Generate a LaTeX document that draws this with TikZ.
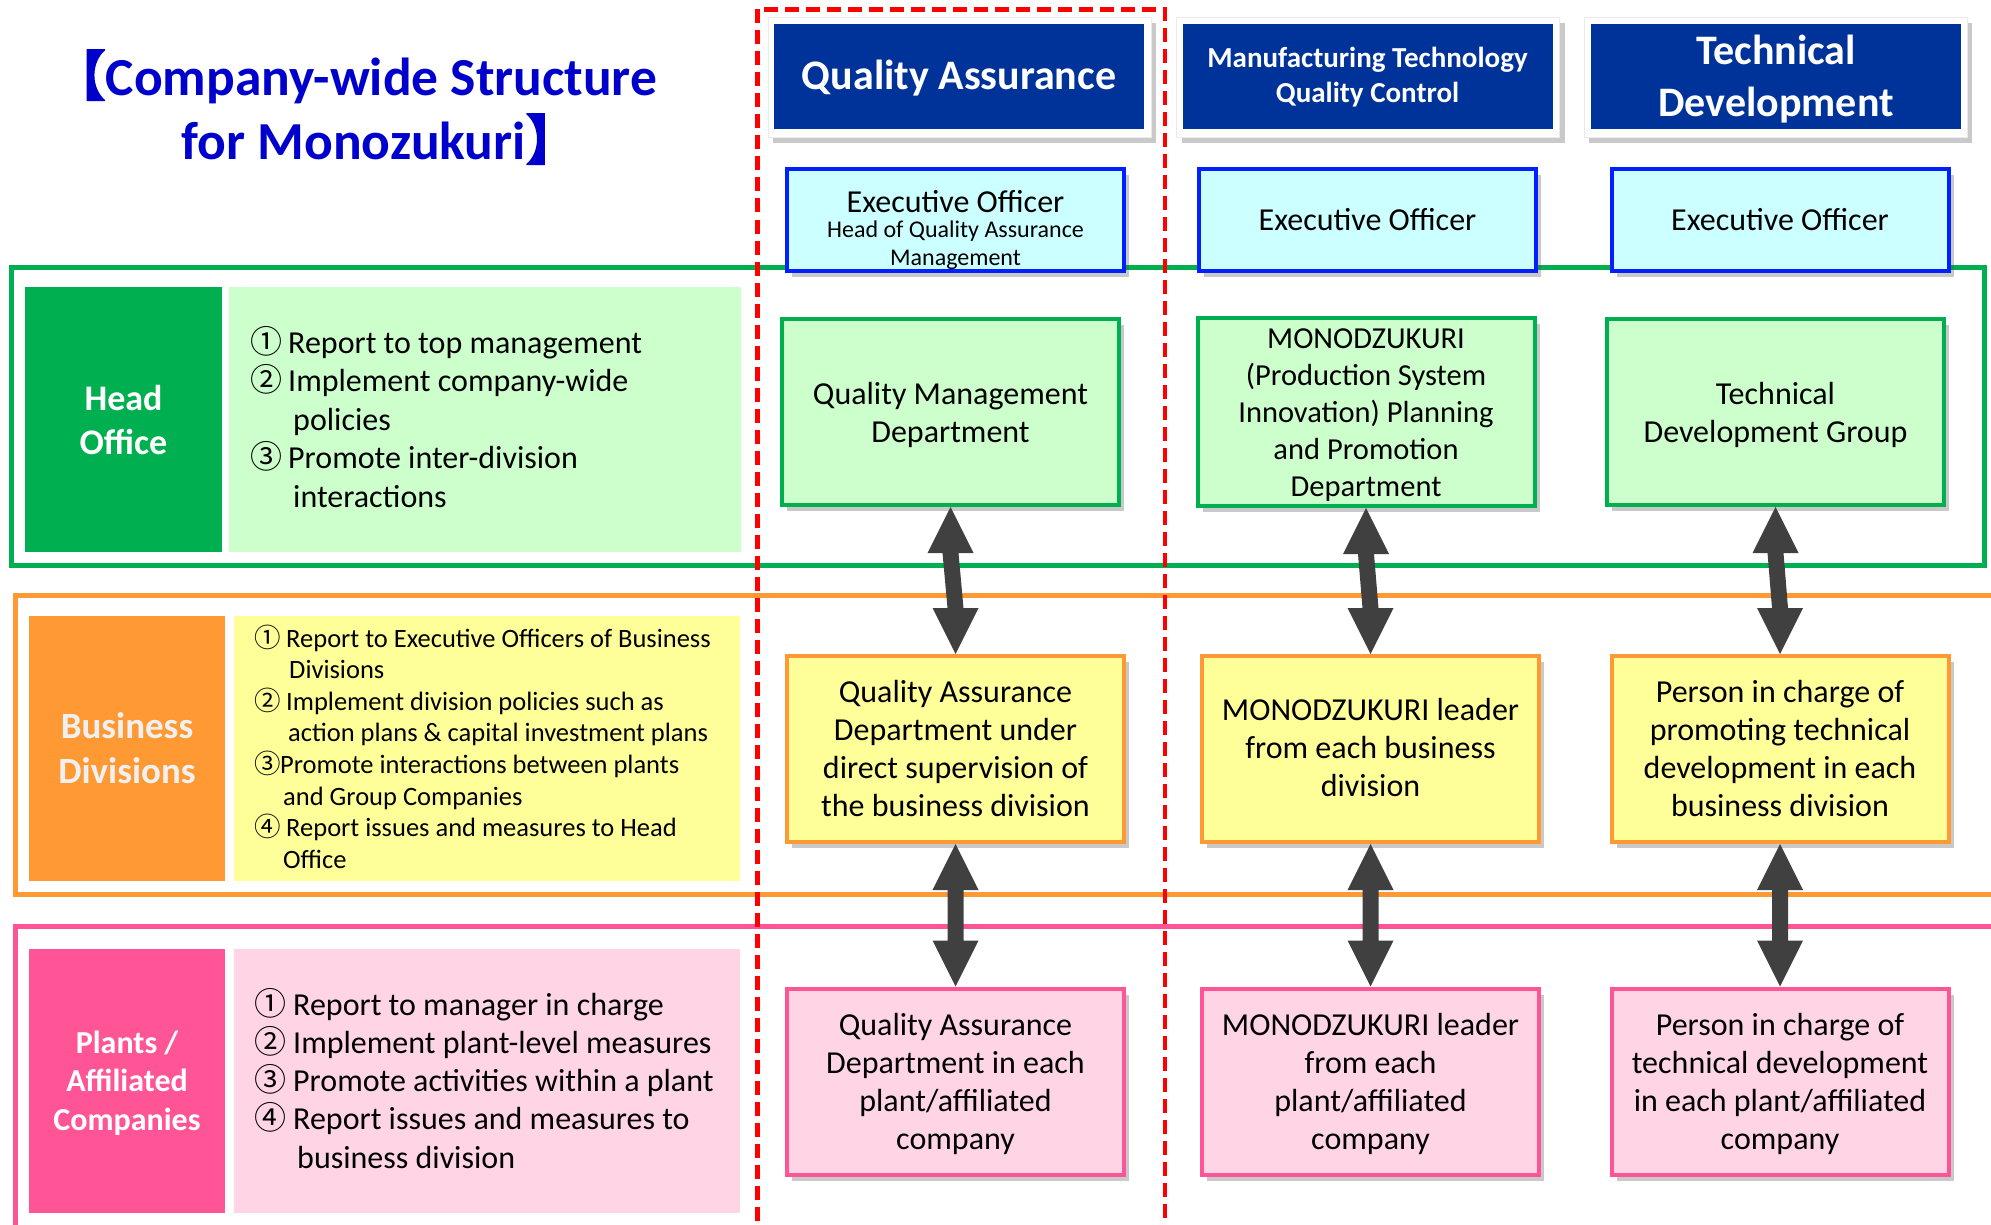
\documentclass[tikz,border=0pt]{standalone}
\usepackage{fontspec}
\setmainfont{Carlito}
\newfontfamily\cjk{Noto Sans CJK JP}
\newfontfamily\cjkb{Noto Sans CJK JP}[FakeBold=2.5]
\usetikzlibrary{shadows,calc}
\definecolor{titleblue}{RGB}{0,0,204}
\definecolor{hdrblue}{RGB}{0,51,153}
\definecolor{exblue}{RGB}{0,32,255}
\definecolor{exfill}{RGB}{204,255,255}
\definecolor{dgreen}{RGB}{0,176,80}
\definecolor{lgreen}{RGB}{204,255,204}
\definecolor{dorange}{RGB}{255,153,51}
\definecolor{lyellow}{RGB}{255,255,153}
\definecolor{dpink}{RGB}{255,85,150}
\definecolor{lpink}{RGB}{255,213,230}
\definecolor{agray}{RGB}{64,64,64}
\newcommand\fs[2]{\fontsize{#1}{#2}\selectfont}
\newcommand\ctext[1]{\vtop{\halign{\hfil##\hfil\cr#1\crcr}}}
\newcommand\ltext[1]{\vtop{\halign{##\hfil\cr#1\crcr}}}
\newcommand\cn[2]{\makebox[#1][l]{\cjk #2}}
\newcommand\dbl[2]{\fill[agray] let \p1=(#1), \p2=(#2) in (\x1,\y1) -- (\x1+23pt,\y1-46pt) -- (\x1+8pt,\y1-46pt) -- (\x2+8pt,\y2+46pt) -- (\x2+23pt,\y2+46pt) -- (\x2,\y2) -- (\x2-23pt,\y2+46pt) -- (\x2-8pt,\y2+46pt) -- (\x1-8pt,\y1-46pt) -- (\x1-23pt,\y1-46pt) -- cycle;}
\begin{document}
\begin{tikzpicture}[x=1pt,y=-1pt,
  shd/.style={drop shadow={shadow xshift=5pt,shadow yshift=-6pt,opacity=0.3,fill=black!70}},
  box/.style={shd, line width=4pt, minimum width=337pt, minimum height=186pt, inner sep=0pt, font=\fs{32}{38}, text height=30pt},
  gbox/.style={box, draw=dgreen, fill=lgreen},
  ybox/.style={box, draw=dorange, fill=lyellow},
  pbox/.style={box, draw=dpink, fill=lpink},
  exbox/.style={box, draw=exblue, fill=exfill, minimum height=102pt},
  hframe/.style={shd, fill=white, draw=black!8, line width=0.5pt, minimum width=383pt, minimum height=120pt, inner sep=0pt},
  hdr/.style={fill=hdrblue, minimum width=370pt, minimum height=105pt, inner sep=0pt, text=white, text height=30pt},
  band/.style={line width=5pt},
  lab/.style={minimum width=197pt, minimum height=265pt, inner sep=0pt, text=white, text height=30pt},
  panel/.style={minimum width=507pt, minimum height=265pt, inner sep=0pt},
  lst/.style={anchor=base west, inner sep=0pt},
  ttl/.style={anchor=base west, inner sep=0pt, text=titleblue, font=\bfseries\fs{53.5}{64}}
]
\useasboundingbox (0,0) rectangle (1991,1225);
% bands
\draw[band, draw=dgreen] (11,267) rectangle (1984,565);
\draw[band, draw=dorange] (15,595) rectangle (2010,894);
\draw[band, draw=dpink] (15,926) rectangle (2010,1250);
% red dashed column
\draw[line width=4.5pt, draw=red, dash pattern=on 14pt off 7pt] (757.5,9.5) rectangle (1165,1250);
% title
\node[ttl] (t1) at (52,95.5) {{\cjkb 【}Company-wide Structure};
\node[ttl] (t2) at (181.5,159.5) {for Monozukuri{\cjkb 】}};
% headers
\node[hframe] (qaF) at (959.5,77) {};
\node[hdr, text depth=3pt, font=\bfseries\fs{42}{50}] (qaH) at (959,76.5) {Quality Assurance};
\node[hframe] (mtF) at (1368,77) {};
\node[hdr, text depth=47pt, font=\bfseries\fs{29}{35}] (mtH) at (1367.5,76.5) {\ctext{Manufacturing Technology\cr Quality Control}};
\node[hframe] (tdF) at (1775.5,77) {};
\node[hdr, text depth=53pt, font=\bfseries\fs{42}{52}] (tdH) at (1776,76.5) {\ctext{Technical\cr Development}};
% executive officers
\node[exbox, text depth=46pt, font=\fs{24}{28}] (qaE) at (955.5,220) {\ctext{\fs{32}{38}Executive Officer\cr\noalign{\vskip-3pt}Head of Quality Assurance\cr Management}};
\node[exbox, text depth=8.6pt] (mtE) at (1367.5,220) {Executive Officer};
\node[exbox, text depth=8.6pt] (tdE) at (1780,220) {Executive Officer};
% left panels
\node[lab, fill=dgreen, text depth=49pt, font=\bfseries\fs{36}{44}] (hoL) at (123.5,419.5) {\ctext{Head\cr Office}};
\node[panel, fill=lgreen, minimum width=512pt] (hoP) at (485,419.5) {};
\node[lab, fill=dorange, minimum width=196pt, text depth=50pt, text=white!94!black, font=\bfseries\fs{37}{45}] (bdL) at (127,748.5) {\ctext{Business\cr Divisions}};
\node[panel, fill=lyellow, minimum width=506pt] (bdP) at (487,748.5) {};
\node[lab, fill=dpink, minimum width=196pt, minimum height=264pt, text depth=86pt, font=\bfseries\fs{32}{38.5}] (plL) at (127,1081) {\ctext{Plants /\cr Affiliated\cr Companies}};
\node[panel, fill=lpink, minimum width=506pt, minimum height=264pt] (plP) at (487,1081) {};
% lists
\node[lst, font=\fs{32}{38.5}] (hoT) at (250,353) {\ltext{\cn{38pt}{①}Report to top management\cr \cn{38pt}{②}Implement company-wide\cr \kern43pt policies\cr \cn{38pt}{③}Promote inter-division\cr \kern43pt interactions}};
\node[lst, font=\fs{26.5}{31.6}] (bdT) at (254,647) {\ltext{\cn{32pt}{①}Report to Executive Officers of Business\cr \kern35pt Divisions\cr \cn{32pt}{②}Implement division policies such as\cr \kern34pt action plans \& capital investment plans\cr \cn{26pt}{③}Promote interactions between plants\cr \kern29pt and Group Companies\cr \cn{32pt}{④}Report issues and measures to Head\cr \kern29pt Office}};
\node[lst, font=\fs{32}{38.3}] (plT) at (254,1015) {\ltext{\cn{39pt}{①}Report to manager in charge\cr \cn{39pt}{②}Implement plant-level measures\cr \cn{39pt}{③}Promote activities within a plant\cr \cn{39pt}{④}Report issues and measures to\cr \kern43pt business division}};
% green boxes
\node[gbox, text depth=46pt] (qaG) at (950.5,412) {\ctext{Quality Management\cr Department}};
\node[gbox, text depth=158pt, font=\fs{30.5}{37}] (mtG) at (1366,412) {\ctext{MONODZUKURI\cr (Production System\cr Innovation) Planning\cr and Promotion\cr Department}};
\node[gbox, text depth=46pt] (tdG) at (1775.5,412) {\ctext{Technical\cr Development Group}};
% yellow boxes
\node[ybox, text depth=124pt] (qaY) at (955.5,749) {\ctext{Quality Assurance\cr Department under\cr direct supervision of\cr the business division}};
\node[ybox, text depth=88pt] (mtY) at (1370.5,749) {\ctext{MONODZUKURI leader\cr from each business\cr division}};
\node[ybox, text depth=124pt] (tdY) at (1780,749) {\ctext{Person in charge of\cr promoting technical\cr development in each\cr business division}};
% pink boxes
\node[pbox, text depth=123pt] (qaP) at (955.5,1081.5) {\ctext{Quality Assurance\cr Department in each\cr plant/affiliated\cr company}};
\node[pbox, text depth=123pt] (mtP) at (1370.5,1081.5) {\ctext{MONODZUKURI leader\cr from each\cr plant/affiliated\cr company}};
\node[pbox, text depth=123pt] (tdP) at (1780,1081.5) {\ctext{Person in charge of\cr technical development\cr in each plant/affiliated\cr company}};
% arrows
\dbl{qaG.south}{qaY.north}
\dbl{mtG.south}{mtY.north}
\dbl{tdG.south}{tdY.north}
\dbl{qaY.south}{qaP.north}
\dbl{mtY.south}{mtP.north}
\dbl{tdY.south}{tdP.north}
\end{tikzpicture}
\end{document}
